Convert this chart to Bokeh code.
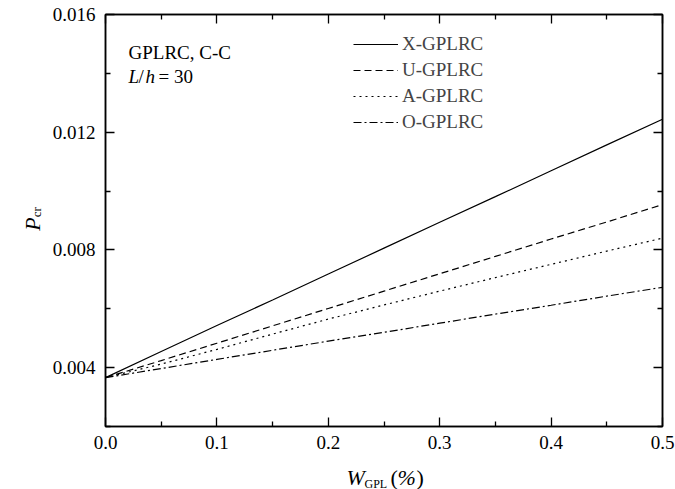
import math
from bokeh.plotting import figure
from bokeh.layouts import column, row
from bokeh.models import (LinearAxis, FixedTicker, Range1d, Legend, LegendItem,
                          Label, CustomJSTickFormatter)
from bokeh.embed import file_html
from bokeh.resources import INLINE

# ---- data ----
w_gpl = [0.0, 0.05, 0.1, 0.15, 0.2, 0.25, 0.3, 0.35, 0.4, 0.45, 0.5]
x_gplrc = [0.00366, 0.00455, 0.00543, 0.00630, 0.00718, 0.00806, 0.00894, 0.00981, 0.01069, 0.01157, 0.01244]
u_gplrc = [0.00366, 0.00424, 0.00483, 0.00542, 0.00601, 0.00660, 0.00719, 0.00778, 0.00837, 0.00895, 0.00954]
a_gplrc = [0.00366, 0.00412, 0.00462, 0.00514, 0.00565, 0.00613, 0.00660, 0.00706, 0.00751, 0.00796, 0.00840]
o_gplrc = [0.00366, 0.00397, 0.00428, 0.00459, 0.00490, 0.00520, 0.00551, 0.00582, 0.00612, 0.00643, 0.00673]
series_names = ["X-GPLRC", "U-GPLRC", "A-GPLRC", "O-GPLRC"]
x_ticks = [0.0, 0.1, 0.2, 0.3, 0.4, 0.5]
x_minor = [0.05, 0.15, 0.25, 0.35, 0.45]
y_ticks = [0.004, 0.008, 0.012, 0.016]
y_minor = [0.002, 0.006, 0.010, 0.014]

FONT = "Liberation Serif"
W_TOT, H_TOT = 675, 489
XMIN, XMAX, YMIN, YMAX = 0.0, 0.5, 0.002, 0.016
L, R, T, B = 105, 662, 14, 426      # frame edges in page pixels
YT_W = 45                            # width of the y-title strip
MAIN_H = 461                         # height of the main figure
XT_H = H_TOT - MAIN_H                # height of the x-title strip


def dx(px):
    return XMIN + (px - L) / (R - L) * (XMAX - XMIN)


def dy(py):
    return YMAX - (py - T) / (B - T) * (YMAX - YMIN)


p = figure(width=W_TOT - YT_W, height=MAIN_H, output_backend="svg", toolbar_location=None,
           x_range=Range1d(XMIN, XMAX), y_range=Range1d(YMIN, YMAX),
           x_axis_location=None, y_axis_location=None,
           min_border_left=L - YT_W, min_border_right=W_TOT - R, min_border_top=T,
           min_border_bottom=MAIN_H - B)
p.grid.visible = False
p.outline_line_color = "black"
p.outline_line_width = 1.5
p.background_fill_color = "white"
p.border_fill_color = "white"


def make_axis(ticks, minor, fmt, show, standoff):
    ax = LinearAxis()
    ax.ticker = FixedTicker(ticks=ticks, minor_ticks=minor)
    ax.formatter = CustomJSTickFormatter(code=fmt)
    ax.axis_line_width = 1.5
    ax.major_tick_in = 9
    ax.major_tick_out = 0
    ax.minor_tick_in = 5
    ax.minor_tick_out = 0
    ax.major_tick_line_width = 1.3
    ax.minor_tick_line_width = 1.3
    ax.major_label_text_font = FONT
    ax.major_label_text_font_size = "19px" if show else "0px"
    ax.major_label_text_color = "black" if show else None
    ax.major_label_standoff = standoff if show else 0
    return ax


xfmt = "return tick.toFixed(1);"
yfmt = "return tick.toFixed(3);"
p.add_layout(make_axis(x_ticks, x_minor, xfmt, True, 9), "below")
p.add_layout(make_axis(x_ticks, x_minor, xfmt, False, 0), "above")
p.add_layout(make_axis(y_ticks, y_minor, yfmt, True, 10), "left")
p.add_layout(make_axis(y_ticks, y_minor, yfmt, False, 0), "right")

dashes = ["solid", "7 4", "2 4", "8 3 2 3"]
renderers = []
for ys, dash in zip([x_gplrc, u_gplrc, a_gplrc, o_gplrc], dashes):
    r = p.line(w_gpl, ys, line_color="black", line_width=1.2, line_dash=dash)
    renderers.append(r)

legend = Legend(items=[LegendItem(label=n, renderers=[r]) for n, r in zip(series_names, renderers)],
                location=(248, 293), orientation="vertical",
                background_fill_alpha=0, border_line_color=None,
                label_text_font=FONT, label_text_font_size="19px",
                glyph_width=45, glyph_height=20, label_height=20,
                label_standoff=4, spacing=4, padding=0, margin=0)
p.add_layout(legend, "center")


def lab(fig, text, x, y, size="19px", style="normal", angle=0.0):
    fig.add_layout(Label(x=x, y=y, text=text, text_font=FONT,
                         text_font_size=size, text_font_style=style,
                         text_align="left", text_baseline="alphabetic",
                         angle=angle, text_color="black"))


# annotation text inside the frame
lab(p, "GPLRC, C-C", dx(128), dy(52))
lab(p, "L", dx(128), dy(76), style="italic")
lab(p, "/", dx(138), dy(76))
lab(p, "h", dx(145), dy(76), style="italic")
lab(p, "= 30", dx(158), dy(76))


def strip(w, h):
    f = figure(width=w, height=h, output_backend="svg", toolbar_location=None,
               x_range=Range1d(0, w), y_range=Range1d(0, h),
               x_axis_location=None, y_axis_location=None,
               min_border=0, outline_line_color=None)
    f.grid.visible = False
    f.background_fill_color = "white"
    f.border_fill_color = "white"
    return f


# y axis title strip (page x 0..YT_W, page y 0..MAIN_H)
yfig = strip(YT_W, MAIN_H)
lab(yfig, "P", 32, MAIN_H - 242, size="22px", style="italic", angle=math.pi / 2)
lab(yfig, "cr", 36, MAIN_H - 227, size="13px", angle=math.pi / 2)

# x axis title strip (page y MAIN_H..H_TOT)
xfig = strip(W_TOT, XT_H)
lab(xfig, "W", 346, H_TOT - 477, size="22px", style="italic")
lab(xfig, "GPL", 364, H_TOT - 483, size="12px")
lab(xfig, "(", 390, H_TOT - 477, size="22px")
lab(xfig, "%", 397, H_TOT - 477, size="22px", style="italic")
lab(xfig, ")", 416, H_TOT - 477, size="22px")

layout = column(row(yfig, p), xfig)
open("out.html", "w").write(file_html(layout, INLINE))
